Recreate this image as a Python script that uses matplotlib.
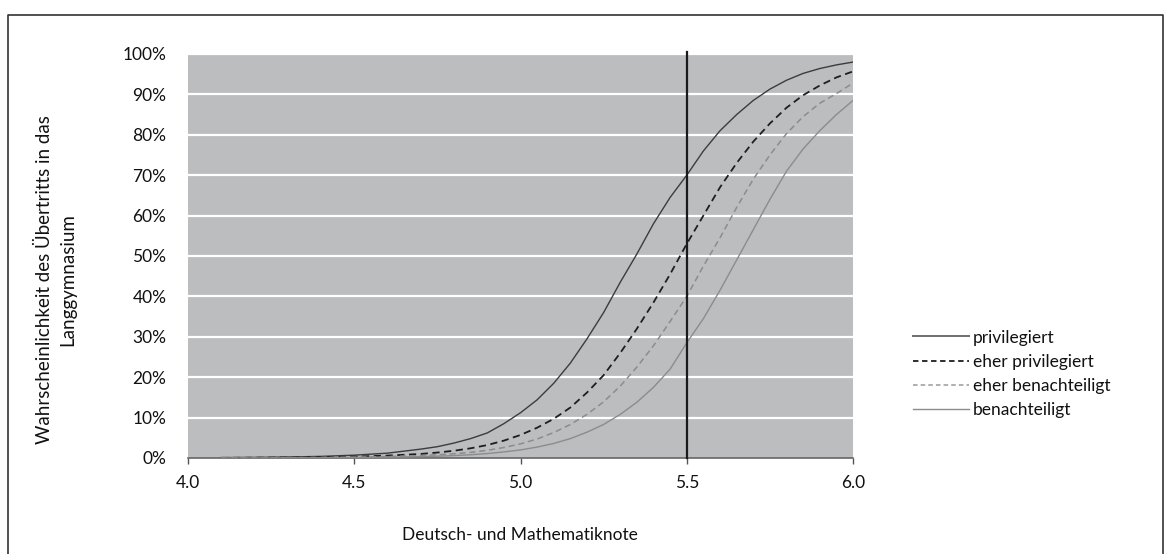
import numpy as np
import matplotlib.pyplot as plt
from matplotlib.lines import Line2D

plt.rcParams['font.family'] = ['Lato', 'DejaVu Sans']

# Deutsch- und Mathematiknote
note = [4.1, 4.2, 4.3, 4.4, 4.5, 4.6, 4.7, 4.75, 4.8, 4.85, 4.9, 4.95, 5.0,
        5.05, 5.1, 5.15, 5.2, 5.25, 5.3, 5.35, 5.4, 5.45, 5.5, 5.55, 5.6,
        5.65, 5.7, 5.75, 5.8, 5.85, 5.9, 5.95, 6.0]

# probabilities in %
privilegiert = [0.1, 0.15, 0.25, 0.4, 0.7, 1.2, 2.2, 2.8, 3.7, 4.8, 6.2, 8.5, 11.2,
                14.4, 18.5, 23.5, 29.5, 36, 43.5, 50.5, 58, 64.5, 70, 76, 81,
                85, 88.5, 91.3, 93.5, 95.2, 96.4, 97.3, 98.0]
eher_privilegiert = [0.04, 0.07, 0.12, 0.2, 0.35, 0.6, 1.0, 1.35, 1.8, 2.4, 3.2, 4.3, 5.7,
                     7.5, 9.7, 12.5, 16.2, 20.5, 26, 32, 38.5, 45.5, 53, 60, 67,
                     73, 78.3, 82.8, 86.7, 89.8, 92.2, 94.2, 95.7]
eher_benachteiligt = [0.02, 0.04, 0.07, 0.12, 0.2, 0.35, 0.6, 0.8, 1.05, 1.4, 1.9, 2.6, 3.5,
                      4.7, 6.3, 8.3, 10.8, 13.9, 17.8, 22.5, 27.8, 33.8, 40, 47.5, 54.5,
                      62, 69, 75, 80.3, 84.5, 87.8, 90.2, 92.8]
benachteiligt = [0.01, 0.02, 0.04, 0.07, 0.12, 0.2, 0.35, 0.45, 0.6, 0.8, 1.1, 1.5, 2.0,
                 2.7, 3.6, 4.8, 6.4, 8.3, 10.8, 13.8, 17.5, 22, 28.5, 34.5, 41.5,
                 49, 56.5, 64, 71, 76.5, 81, 85, 88.5]

labels = ['privilegiert', 'eher privilegiert', 'eher benachteiligt', 'benachteiligt']
x_ticks = [4.0, 4.5, 5.0, 5.5, 6.0]
y_ticks = [0, 10, 20, 30, 40, 50, 60, 70, 80, 90, 100]

W, H = 1171, 554
fig = plt.figure(figsize=(W / 100, H / 100), dpi=100)
ax = fig.add_axes([188 / W, 1 - 458 / H, 665 / W, 404 / H])
ax.set_facecolor('#bbbdbe')

# outer frame (left, top, right; bottom runs off the image)
frame_x = [8 / W, 8 / W, 1163 / W, 1163 / W]
frame_y = [0, 1 - 15 / H, 1 - 15 / H, 0]
fig.add_artist(Line2D(frame_x, frame_y, transform=fig.transFigure,
                      color='#333333', lw=1.2))

for y in y_ticks[1:]:
    ax.axhline(y, color='white', lw=1.6, zorder=1)

ax.plot(note, privilegiert, color='#3c3c3c', lw=1.0, zorder=3)
ax.plot(note, eher_privilegiert, color='#1e1e1e', lw=1.3, ls=(0, (4, 2.5)), zorder=3)
ax.plot(note, eher_benachteiligt, color='#8c8c8c', lw=1.1, ls=(0, (4, 2.5)), zorder=3)
ax.plot(note, benachteiligt, color='#8c8c8c', lw=1.0, zorder=3)

ax.axvline(5.5, ymin=0, ymax=1.006, color='#1a1a1a', lw=1.6, zorder=4, clip_on=False)

ax.set_xlim(4.0, 6.0)
ax.set_ylim(0, 100)
ax.set_xticks(x_ticks)
ax.set_xticklabels([f'{v:.1f}' for v in x_ticks])
ax.set_yticks(y_ticks)
ax.set_yticklabels([f'{v}%' for v in y_ticks])
ax.tick_params(axis='y', length=0, pad=15.5, labelsize=12.5, colors='#111111')
ax.tick_params(axis='x', length=4, width=1, color='#555555', pad=8, labelsize=12.5,
               labelcolor='#111111')
for s in ['top', 'right', 'left']:
    ax.spines[s].set_visible(False)
ax.spines['bottom'].set_color('#666666')
ax.spines['bottom'].set_linewidth(1.2)

fig.text(520 / W, 1 - 535 / H, 'Deutsch- und Mathematiknote', ha='center', va='center',
         fontsize=12.5, color='#111111')
fig.text(56 / W, 1 - 280 / H, 'Wahrscheinlichkeit des Übertritts in das\nLanggymnasium',
         ha='center', va='center', rotation=90, fontsize=13.5, color='#111111',
         linespacing=1.45)

handles = [
    Line2D([], [], color='#6e6e6e', lw=1.4),
    Line2D([], [], color='#1e1e1e', lw=1.3, ls=(0, (3, 2))),
    Line2D([], [], color='#9a9a9a', lw=1.1, ls=(0, (3, 2))),
    Line2D([], [], color='#8c8c8c', lw=1.0),
]
fig.legend(handles, labels, loc='center left', bbox_to_anchor=(913 / W, 1 - 374 / H),
           frameon=False, fontsize=12.5, handlelength=3.2, handletextpad=0.25,
           labelspacing=0.48, borderpad=0, borderaxespad=0, labelcolor='#111111')

fig.savefig('out.png', dpi=100)
